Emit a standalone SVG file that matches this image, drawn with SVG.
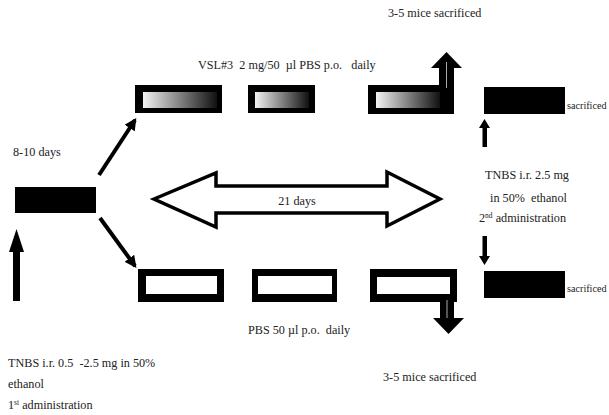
<svg xmlns="http://www.w3.org/2000/svg" width="609" height="415" viewBox="0 0 609 415">
  <style>
    text { font-family: "Liberation Serif", "DejaVu Serif", serif; font-size: 12.2px; fill: #222; }
    .blk { fill: #000; }
    .hollow { fill: #fff; }
    .line { stroke: #000; stroke-width: 4; fill: none; }
    .side { font-size: 10.2px; }
  </style>
  <defs>
    <linearGradient id="fade" x1="0" y1="0" x2="1" y2="0">
      <stop offset="0" stop-color="#f2f2f2"/>
      <stop offset="1" stop-color="#111"/>
    </linearGradient>
    <marker id="tip" viewBox="0 0 10 10" refX="8" refY="5" markerWidth="3" markerHeight="3" orient="auto">
      <path d="M0,0 L10,5 L0,10 z" fill="#000"/>
    </marker>
  </defs>
  <rect width="609" height="415" fill="#fff"/>

  <!-- start: first TNBS administration -->
  <g id="start">
    <rect class="blk" x="15" y="187" width="81" height="26"/>
    <text x="13" y="156">8-10 days</text>
  </g>
  <g id="tnbs1">
    <polygon class="blk" points="13,252 9,252 16.5,229 24,252 20,252 20,301 13,301"/>
    <text x="8" y="367" xml:space="preserve">TNBS i.r. 0.5  -2.5 mg in 50%</text>
    <text x="8" y="388">ethanol</text>
    <text x="8" y="409">1<tspan font-size="7.5" dy="-4">st</tspan><tspan dy="4"> administration</tspan></text>
  </g>

  <!-- VSL#3 treated arm -->
  <g id="vsl1">
    <rect class="blk" x="135" y="85" width="87" height="28"/>
    <rect x="143" y="92" width="74" height="16" fill="url(#fade)"/>
  </g>
  <g id="vsl2">
    <rect class="blk" x="248" y="85" width="67" height="28"/>
    <rect x="255" y="92" width="54" height="16" fill="url(#fade)"/>
  </g>
  <g id="vsl3">
    <rect class="blk" x="368" y="85" width="86" height="29"/>
    <rect x="376" y="92" width="64" height="16" fill="url(#fade)"/>
    <polygon class="blk" points="439,90 439,68 431,68 446.5,52 462,68 454,68 454,90"/>
    <line x1="446.5" y1="62" x2="446.5" y2="88" stroke="#aaa" stroke-width="1"/>
  </g>
  <text x="198" y="69" xml:space="preserve">VSL#3  2 mg/50  µl PBS p.o.   daily</text>
  <text x="388" y="17">3-5 mice sacrificed</text>

  <!-- PBS control arm -->
  <g id="pbs1">
    <rect class="blk" x="138" y="269" width="86" height="33"/>
    <rect class="hollow" x="146" y="276" width="71" height="18"/>
  </g>
  <g id="pbs2">
    <rect class="blk" x="252" y="269" width="85" height="33"/>
    <rect class="hollow" x="258" y="276" width="74" height="18"/>
  </g>
  <g id="pbs3">
    <rect class="blk" x="370" y="269" width="87" height="33"/>
    <rect class="hollow" x="377" y="277" width="73" height="17"/>
    <polygon class="blk" points="440,298 440,318 433,318 448.5,334 464,318 454,318 454,298"/>
    <line x1="447" y1="300" x2="447" y2="318" stroke="#aaa" stroke-width="1"/>
  </g>
  <text x="248" y="334" xml:space="preserve">PBS 50 µl p.o.  daily</text>
  <text x="383" y="381">3-5 mice sacrificed</text>

  <!-- 21 day span -->
  <g id="span">
    <polygon points="154,199 216,173 216,186 387,186 387,172 440,199 387,226 387,213 216,213 216,227" fill="#fff" stroke="#000" stroke-width="3.5" stroke-linejoin="miter"/>
    <text x="297" y="205" text-anchor="middle">21 days</text>
  </g>

  <!-- second TNBS administration and sacrifice -->
  <g id="sac-top">
    <rect class="blk" x="484" y="87" width="81" height="27"/>
    <text class="side" x="567" y="109">sacrificed</text>
  </g>
  <g id="tnbs2">
    <text x="485" y="179">TNBS i.r. 2.5 mg</text>
    <text x="487" y="202" xml:space="preserve"> in 50%  ethanol</text>
    <text x="479" y="222">2<tspan font-size="7.5" dy="-4">nd</tspan><tspan dy="4"> administration</tspan></text>
  </g>
  <g id="sac-bottom">
    <rect class="blk" x="484" y="271" width="81" height="27"/>
    <text class="side" x="567" y="292">sacrificed</text>
  </g>

  <g id="connectors">
    <line class="line" x1="99" y1="175" x2="135" y2="120" marker-end="url(#tip)"/>
    <line class="line" x1="100" y1="218" x2="135" y2="266" marker-end="url(#tip)"/>
    <polygon class="blk" points="482.5,147 482.5,128 479,128 484.5,119 490,128 487,128 487,147"/>
    <polygon class="blk" points="482.5,236 482.5,256 479,256 484.5,265 490,256 487,256 487,236"/>
  </g>
</svg>
